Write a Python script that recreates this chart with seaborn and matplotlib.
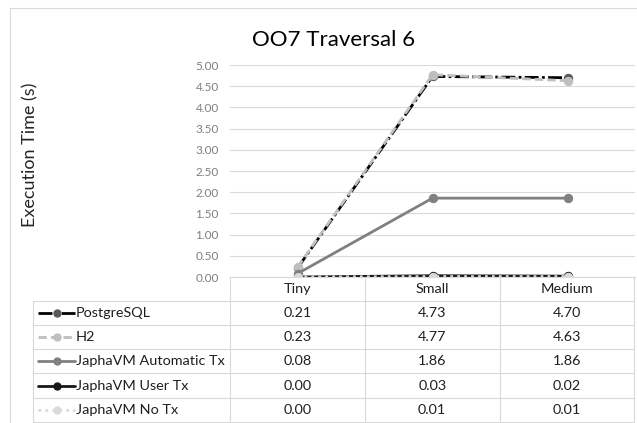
import matplotlib
matplotlib.use("Agg")
import matplotlib.pyplot as plt
import seaborn as sns
import pandas as pd
from matplotlib.lines import Line2D

categories = ["Tiny", "Small", "Medium"]
series_names = ["PostgreSQL", "H2", "JaphaVM Automatic Tx", "JaphaVM User Tx", "JaphaVM No Tx"]
postgres = [0.21, 4.73, 4.70]
h2 = [0.23, 4.77, 4.63]
japha_auto = [0.08, 1.86, 1.86]
japha_user = [0.00, 0.03, 0.02]
japha_notx = [0.00, 0.01, 0.01]
series_values = [postgres, h2, japha_auto, japha_user, japha_notx]
y_ticks = [0.0, 0.5, 1.0, 1.5, 2.0, 2.5, 3.0, 3.5, 4.0, 4.5, 5.0]

sns.set_theme(style="white")
plt.rcParams['font.family'] = ['Lato', 'DejaVu Sans']

W, H = 637, 423
fig = plt.figure(figsize=(W / 100, H / 100), dpi=100)

def fx(px):
    return px / W

def fy(py):
    return 1 - py / H

styles = [
    dict(color="black", ls=(0, (5, 1.2, 1, 1.2)), mfc="#595959", mec="#595959"),
    dict(color="#BFBFBF", ls=(0, (3, 1.5)), mfc="#BFBFBF", mec="#BFBFBF"),
    dict(color="#808080", ls="-", mfc="#808080", mec="#808080"),
    dict(color="#1a1a1a", ls="-", mfc="#1a1a1a", mec="#1a1a1a"),
    dict(color="#D9D9D9", ls=(0, (1, 1.5)), mfc="#D9D9D9", mec="#D9D9D9"),
]

pl, pr, pt, pb = 230, 635, 65, 277
ax = fig.add_axes([fx(pl), fy(pb), fx(pr) - fx(pl), fy(pt) - fy(pb)])

for name, vals, st in zip(series_names, series_values, styles):
    df = pd.DataFrame({"cat": categories, "val": vals})
    sns.lineplot(data=df, x="cat", y="val", ax=ax, color=st["color"],
                 linestyle=st["ls"], linewidth=2.0, marker="o", markersize=6,
                 markerfacecolor=st["mfc"], markeredgecolor=st["mec"], sort=False)

ax.set_xlim(-0.5, 2.5)
ax.set_ylim(0, 5)
ax.set_yticks(y_ticks)
ax.set_yticklabels([f"{v:.2f}" for v in y_ticks], color="#7F7F7F", fontsize=8.5)
ax.tick_params(axis="y", length=0, pad=8)
ax.set_xticks([])
ax.set_xlabel("")
ax.set_ylabel("")
ax.grid(axis="y", color="#D9D9D9", linewidth=0.8)
for s in ["top", "right", "left"]:
    ax.spines[s].set_visible(False)
ax.spines["bottom"].set_color("#D9D9D9")
ax.spines["bottom"].set_linewidth(0.8)
ax.set_axisbelow(True)

# Title and y label
fig.text(fx(334), fy(40), "OO7 Traversal 6", ha="center", va="center",
         fontsize=16, color="black")
fig.text(fx(30), fy(155), "Execution Time (s)", ha="center", va="center",
         rotation=90, fontsize=13, color="#262626")

# Chart border
grid_c = "#D9D9D9"
fig.add_artist(Line2D([fx(10), fx(10)], [fy(8), fy(423)], color=grid_c, lw=0.8))
fig.add_artist(Line2D([fx(10), fx(637)], [fy(8), fy(8)], color=grid_c, lw=0.8))

# Data table
col_edges = [230, 364.5, 500, 634]
row_edges = [301, 325, 349, 373, 398, 422]
hdr_top = 277
for x in col_edges:
    fig.add_artist(Line2D([fx(x), fx(x)], [fy(hdr_top), fy(422)], color=grid_c, lw=0.8))
fig.add_artist(Line2D([fx(33), fx(33)], [fy(301), fy(422)], color=grid_c, lw=0.8))
for y in row_edges:
    fig.add_artist(Line2D([fx(33), fx(634)], [fy(y), fy(y)], color=grid_c, lw=0.8))

text_c = "#1f1f1f"
fs = 10.4
centers = [(col_edges[i] + col_edges[i + 1]) / 2 for i in range(3)]
for cx, cat in zip(centers, categories):
    fig.text(fx(cx), fy(289), cat, ha="center", va="center", fontsize=fs, color=text_c)

for r, (name, vals, st) in enumerate(zip(series_names, series_values, styles)):
    cy = (row_edges[r] + row_edges[r + 1]) / 2
    fig.add_artist(Line2D([fx(38), fx(75)], [fy(cy), fy(cy)], color=st["color"],
                          linestyle=st["ls"], lw=2.0))
    fig.add_artist(Line2D([fx(57)], [fy(cy)], marker="o", markersize=5,
                          markerfacecolor=st["mfc"], markeredgecolor=st["mec"], lw=0))
    fig.text(fx(76), fy(cy), name, ha="left", va="center", fontsize=fs, color=text_c)
    for cx, v in zip(centers, vals):
        fig.text(fx(cx), fy(cy), f"{v:.2f}", ha="center", va="center", fontsize=fs, color=text_c)

fig.savefig("out.png", dpi=100)
